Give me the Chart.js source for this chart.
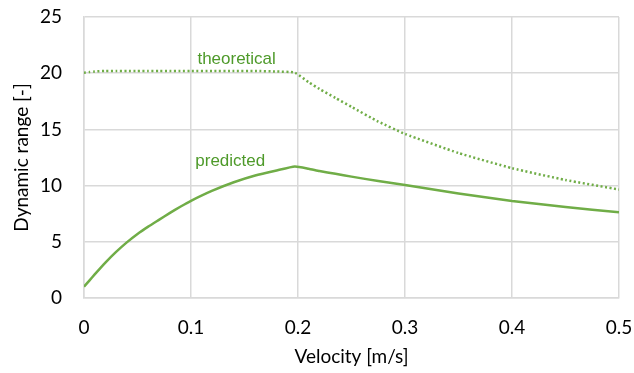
<!doctype html>
<html lang="en">
<head>
  <meta charset="UTF-8">
  <title>Dynamic range vs velocity</title>
  <script src="https://cdn.jsdelivr.net/npm/chart.js@4.4.0/dist/chart.umd.min.js"></script>
  <style>
      html, body {
          margin: 0;
          padding: 0;
          background: #fff;
      }
      .container {
          width: 634px;
          height: 373px;
      }
  </style>
</head>
<body>

<div class="container">
  <canvas id="myChart" width="634" height="373"></canvas>
</div>

<script>
  // velocity [m/s]
  const velocity = [0, 0.005, 0.01, 0.02, 0.03, 0.04, 0.05, 0.06, 0.07, 0.08, 0.09, 0.1, 0.12, 0.14, 0.16, 0.18, 0.197,
                    0.21, 0.22, 0.235, 0.25, 0.275, 0.3, 0.35, 0.4, 0.45, 0.5]
  const theoretical = [20.05, 20.1, 20.15, 20.2, 20.2, 20.2, 20.2, 20.2, 20.2, 20.2, 20.2, 20.2, 20.2, 20.2, 20.2, 20.15, 20.05,
                       19.2, 18.6, 17.8, 17.0, 15.7, 14.6, 12.9, 11.55, 10.5, 9.65]
  const predicted = [1.0, 1.55, 2.1, 3.15, 4.1, 4.95, 5.7, 6.35, 6.95, 7.55, 8.12, 8.65, 9.55, 10.3, 10.9, 11.35, 11.7,
                     11.5, 11.3, 11.05, 10.8, 10.4, 10.05, 9.3, 8.63, 8.1, 7.62]

  const xTicks = [0, 0.1, 0.2, 0.3, 0.4, 0.5]
  const yTicks = [0, 5, 10, 15, 20, 25]

  const lineGreen = '#70AD47'
  const textGreen = '#4E9A2A'
  const gridGrey = '#D9D9D9'
  const tickFont = { family: 'Lato, "Open Sans", sans-serif', size: 19 }

  const pts = (ys) => velocity.map((v, i) => ({ x: v, y: ys[i] }))

  // labels written next to each curve
  const curveLabels = [
    { text: 'theoretical', x: 0.106, y: 21.2 },
    { text: 'predicted', x: 0.104, y: 12.2 }
  ]

  const labelPlugin = {
    id: 'curveLabels',
    afterDatasetsDraw(chart) {
      const { ctx, scales } = chart
      ctx.save()
      ctx.fillStyle = textGreen
      ctx.font = '17px "Liberation Sans", Arial, sans-serif'
      ctx.textBaseline = 'middle'
      curveLabels.forEach(l => {
        ctx.fillText(l.text, scales.x.getPixelForValue(l.x), scales.y.getPixelForValue(l.y))
      })
      ctx.restore()
    }
  }

  const chartDom = document.querySelector('#myChart')

  const chart = new Chart(chartDom, {
    type: 'scatter',
    plugins: [labelPlugin],
    data: {
      datasets: [
        {
          label: 'theoretical',
          data: pts(theoretical),
          showLine: true,
          borderColor: lineGreen,
          borderWidth: 2.5,
          borderDash: [2, 2.5],
          borderCapStyle: 'butt',
          pointRadius: 0,
          tension: 0.15
        },
        {
          label: 'predicted',
          data: pts(predicted),
          showLine: true,
          borderColor: lineGreen,
          borderWidth: 2.5,
          pointRadius: 0,
          tension: 0.15
        }
      ]
    },
    options: {
      responsive: false,
      animation: false,
      layout: { padding: { top: 17, right: 15, left: 0, bottom: 0 } },
      plugins: {
        legend: { display: false },
        tooltip: { enabled: false }
      },
      scales: {
        x: {
          type: 'linear',
          min: 0,
          max: 0.5,
          afterBuildTicks: (axis) => { axis.ticks = xTicks.map(v => ({ value: v })) },
          afterFit: (axis) => {
            axis.height = 75
            axis.paddingLeft = 0
            axis.paddingRight = 0
          },
          grid: { color: gridGrey, lineWidth: 1.5, drawTicks: false },
          border: { color: gridGrey, width: 1.5 },
          ticks: { color: '#000', font: tickFont, padding: 18, maxRotation: 0,
                   callback: (v) => String(v) },
          title: { display: true, text: 'Velocity [m/s]', color: '#000', font: tickFont,
                   padding: { top: 0, bottom: 5 } }
        },
        y: {
          min: 0,
          max: 25,
          afterBuildTicks: (axis) => { axis.ticks = yTicks.map(v => ({ value: v })) },
          afterFit: (axis) => {
            axis.width = 84
            axis.paddingTop = 0
            axis.paddingBottom = 0
          },
          grid: { color: gridGrey, lineWidth: 1.5, drawTicks: false },
          border: { color: gridGrey, width: 1.5 },
          ticks: { color: '#000', font: tickFont, padding: 22 },
          title: { display: true, text: 'Dynamic range [-]', color: '#000', font: tickFont,
                   padding: { top: 10, bottom: 0 } }
        }
      }
    }
  })
</script>

</body>
</html>
